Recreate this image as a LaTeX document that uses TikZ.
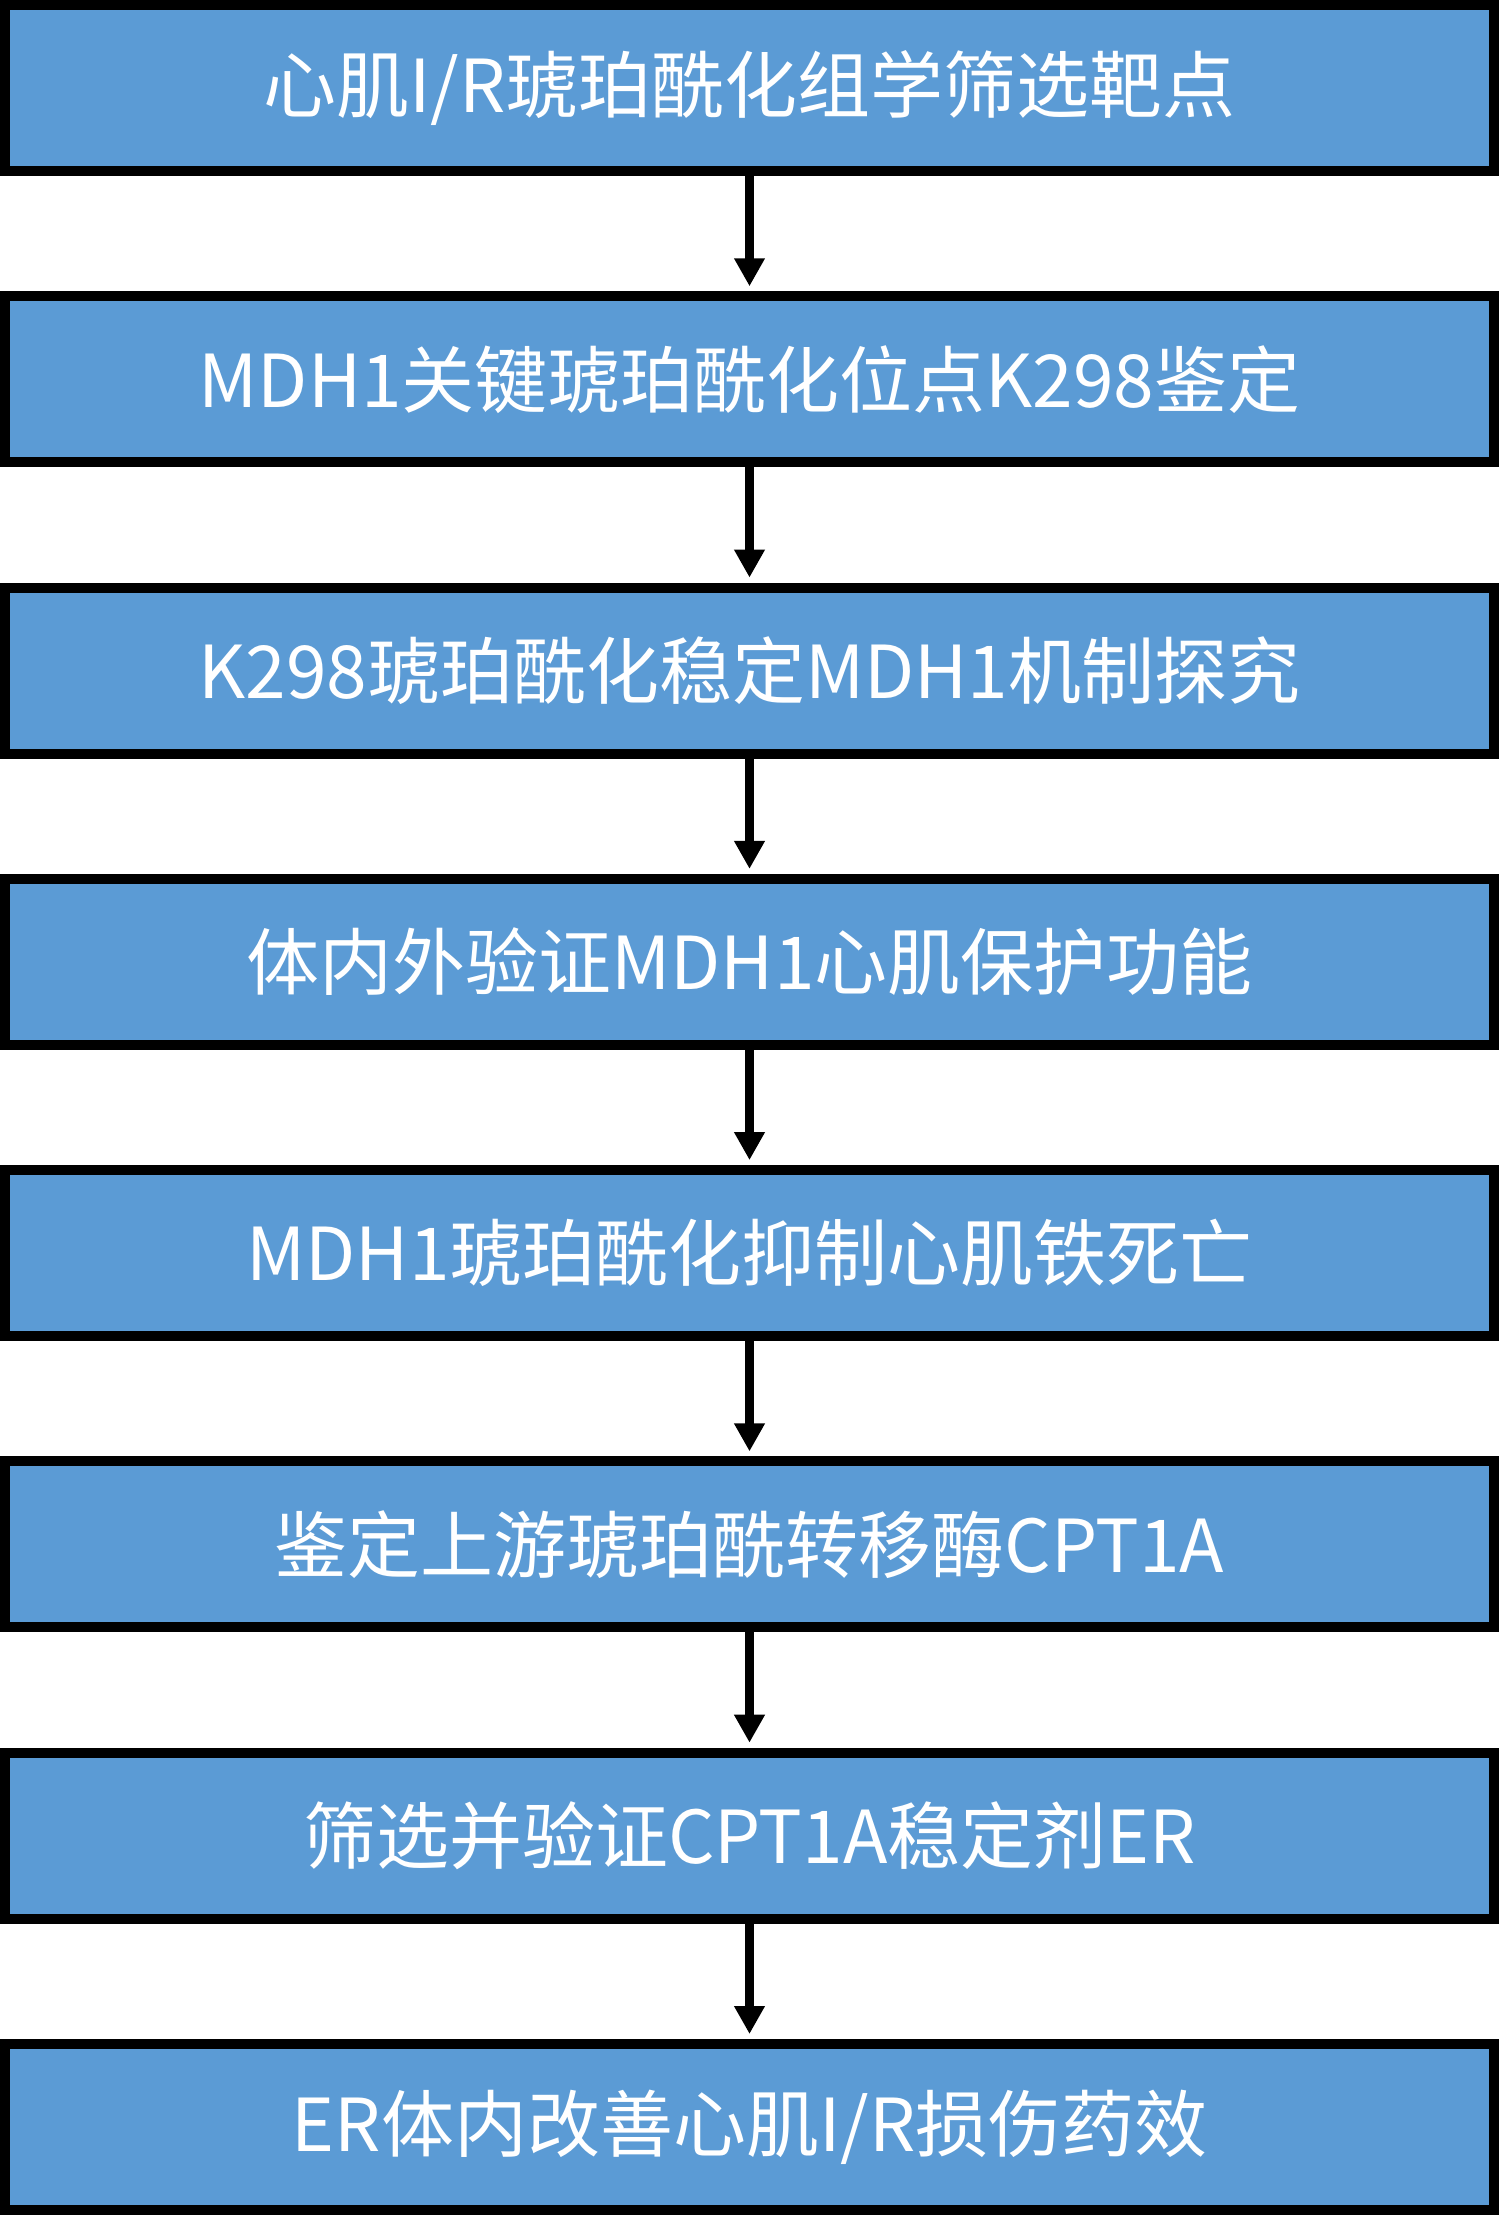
\documentclass[tikz,border=0pt]{standalone}
\usepackage{fontspec}
\setmainfont{Noto Sans CJK SC}
\usetikzlibrary{arrows.meta}
\definecolor{boxblue}{HTML}{5B9BD5}
\begin{document}
\begin{tikzpicture}[x=0.5pt,y=-0.5pt,
  stepbox/.style={rectangle, draw=black, line width=5pt, fill=boxblue,
    minimum width=744.5pt, minimum height=83pt, inner sep=0pt,
    text=white, font=\fontsize{36.5pt}{44pt}\selectfont},
  flowarrow/.style={line width=4.6pt, draw=black,
    -{Triangle[length=14pt,width=14.5pt]}, shorten >=2.5pt}]
\useasboundingbox (0,0) rectangle (1499,2215);
\node[stepbox] (b1) at (749.5,88.0) {心肌I/R琥珀酰化组学筛选靶点};
\node[stepbox] (b2) at (749.5,379.3) {MDH1关键琥珀酰化位点K298鉴定};
\node[stepbox] (b3) at (749.5,670.6) {K298琥珀酰化稳定MDH1机制探究};
\node[stepbox] (b4) at (749.5,961.9) {体内外验证MDH1心肌保护功能};
\node[stepbox] (b5) at (749.5,1253.1) {MDH1琥珀酰化抑制心肌铁死亡};
\node[stepbox] (b6) at (749.5,1544.4) {鉴定上游琥珀酰转移酶CPT1A};
\node[stepbox] (b7) at (749.5,1835.7) {筛选并验证CPT1A稳定剂ER};
\node[stepbox] (b8) at (749.5,2127.0) {ER体内改善心肌I/R损伤药效};
\foreach \a/\b in {b1/b2,b2/b3,b3/b4,b4/b5,b5/b6,b6/b7,b7/b8}
  \draw[flowarrow] (\a.south) -- (\b.north);
\end{tikzpicture}
\end{document}
